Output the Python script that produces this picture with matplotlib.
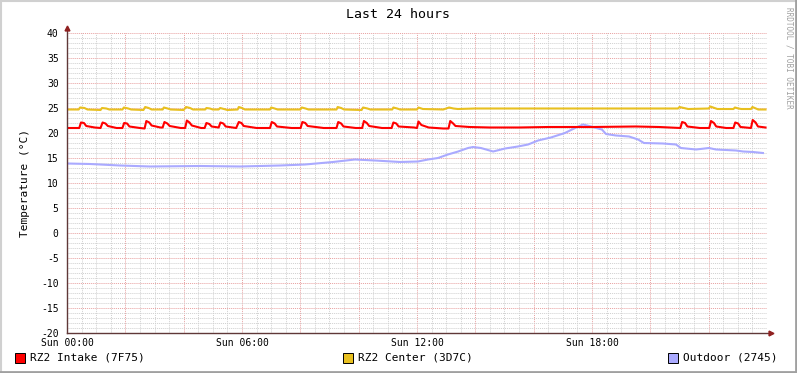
import numpy as np
import matplotlib
matplotlib.use("Agg")
import matplotlib.pyplot as plt
from matplotlib.ticker import MultipleLocator, FuncFormatter
from matplotlib.patches import Rectangle
from matplotlib.lines import Line2D

# hours since Sun 00:00, temperatures in degC
intake_h = [0.00, 0.42, 0.48, 0.58, 0.66, 0.95, 1.15, 1.22, 1.32, 1.40, 1.70, 1.90, 1.96, 2.06, 2.14,
            2.50, 2.66, 2.72, 2.82, 2.90, 3.20, 3.28, 3.34, 3.44, 3.52, 3.90, 4.05, 4.11, 4.20, 4.28,
            4.60, 4.72, 4.78, 4.88, 4.96, 5.20, 5.26, 5.36, 5.44, 5.80, 5.89, 5.98, 6.06, 6.50, 6.96,
            7.02, 7.12, 7.20, 7.70, 8.01, 8.07, 8.17, 8.25, 8.80, 9.24, 9.30, 9.40, 9.48, 9.90, 10.12,
            10.18, 10.28, 10.36, 10.80, 11.13, 11.19, 11.29, 11.37, 11.90, 12.00, 12.05, 12.15, 12.40,
            12.90, 13.08, 13.14, 13.24, 13.32, 13.80, 14.50, 15.50, 16.50, 18.00, 19.50, 20.30, 21.03,
            21.09, 21.19, 21.27, 21.70, 22.02, 22.08, 22.18, 22.26, 22.60, 22.85, 22.91, 23.01, 23.09,
            23.45, 23.51, 23.61, 23.69, 23.95]
intake_v = [21.0, 21.0, 22.1, 22.0, 21.4, 21.1, 21.0, 22.1, 21.9, 21.4, 21.0, 21.0, 22.0, 21.9, 21.3,
            21.0, 20.9, 22.4, 22.1, 21.5, 21.1, 21.1, 22.2, 21.9, 21.4, 21.0, 21.0, 22.5, 22.1, 21.5,
            21.0, 21.0, 22.0, 21.8, 21.3, 21.1, 22.1, 21.9, 21.3, 21.0, 22.2, 22.0, 21.4, 21.0, 21.0,
            22.2, 21.9, 21.3, 21.0, 21.0, 22.2, 22.0, 21.4, 21.0, 21.0, 22.2, 21.9, 21.3, 21.0, 21.0,
            22.4, 22.0, 21.4, 21.0, 21.0, 22.1, 21.9, 21.3, 21.1, 21.0, 22.3, 21.6, 21.1,
            20.9, 20.9, 22.4, 21.9, 21.4, 21.2, 21.1, 21.1, 21.2, 21.2, 21.3, 21.2, 21.0,
            22.2, 22.0, 21.3, 21.0, 21.0, 22.4, 22.0, 21.3, 21.0, 21.0, 22.1, 21.9, 21.2,
            21.0, 22.6, 22.1, 21.3, 21.1]

center_h = [0.00, 0.40, 0.45, 0.60, 0.70, 1.15, 1.20, 1.35, 1.45, 1.90, 1.95, 2.10, 2.20, 2.62, 2.68,
            2.80, 2.90, 3.28, 3.32, 3.45, 3.55, 4.00, 4.08, 4.22, 4.32, 4.74, 4.78, 4.90, 5.00, 5.20,
            5.25, 5.38, 5.50, 5.85, 5.89, 6.00, 6.10, 6.96, 7.00, 7.12, 7.22, 8.00, 8.05, 8.18, 8.28,
            9.24, 9.28, 9.40, 9.50, 10.10, 10.15, 10.30, 10.40, 11.15, 11.19, 11.32, 11.42, 12.00,
            12.05, 12.20, 12.90, 13.10, 13.25, 13.40, 14.00, 20.90, 20.95, 21.00, 21.15, 21.30, 22.00,
            22.06, 22.20, 22.30, 22.85, 22.90, 23.02, 23.12, 23.45, 23.50, 23.62, 23.70, 23.95]
center_v = [24.7, 24.7, 25.1, 25.0, 24.7, 24.6, 25.0, 24.9, 24.7, 24.7, 25.1, 24.9, 24.7, 24.6, 25.2,
            25.0, 24.7, 24.7, 25.1, 24.9, 24.7, 24.6, 25.2, 25.0, 24.7, 24.7, 25.0, 24.9, 24.7, 24.7,
            25.0, 24.8, 24.6, 24.7, 25.2, 25.0, 24.7, 24.7, 25.1, 24.9, 24.7, 24.7, 25.1, 24.9, 24.7,
            24.7, 25.2, 25.0, 24.7, 24.6, 25.1, 24.9, 24.7, 24.7, 25.1, 24.9, 24.7, 24.7,
            25.1, 24.8, 24.7, 25.1, 24.9, 24.8, 24.9, 24.9, 24.9, 25.2, 25.0, 24.8, 24.9,
            25.3, 25.0, 24.8, 24.8, 25.1, 24.9, 24.8, 24.8, 25.2, 24.9, 24.7, 24.7]

outdoor_h = [0.00, 0.79, 1.82, 2.85, 4.56, 5.93, 7.30, 8.16, 9.12, 9.87, 10.56, 11.42, 12.03, 12.38,
             12.72, 13.06, 13.41, 13.75, 13.92, 14.19, 14.61, 15.02, 15.46, 15.81, 16.15, 16.59, 17.07,
             17.42, 17.69, 17.97, 18.21, 18.34, 18.48, 18.82, 19.27, 19.58, 19.78, 20.43, 20.88, 21.05,
             21.57, 22.01, 22.25, 22.94, 23.18, 23.52, 23.86]
outdoor_v = [13.9, 13.8, 13.5, 13.3, 13.4, 13.3, 13.5, 13.7, 14.2, 14.7, 14.5, 14.2, 14.3, 14.7,
             15.0, 15.7, 16.3, 17.0, 17.2, 17.0, 16.3, 16.9, 17.3, 17.7, 18.5, 19.1, 20.0,
             21.0, 21.7, 21.3, 20.9, 20.7, 19.8, 19.5, 19.3, 18.7, 18.0, 17.9, 17.7, 17.0,
             16.7, 17.0, 16.7, 16.5, 16.3, 16.2, 16.0]

labels = ["RZ2 Intake (7F75)", "RZ2 Center (3D7C)", "Outdoor (2745)"]
colors = ["#ff0000", "#e8c020", "#aaaaff"]

mono = "DejaVu Sans Mono"
plt.rcParams["font.family"] = mono
plt.rcParams["axes.unicode_minus"] = False

W, H = 797, 373
fig = plt.figure(figsize=(W / 100, H / 100), dpi=100)
fig.patch.set_facecolor("white")
ax = fig.add_axes([67 / W, 1 - 333 / H, 700 / W, 300 / H])
ax.set_facecolor("white")

ax.set_xlim(0, 24)
ax.set_ylim(-20, 40)

# grid like rrdtool: gray every 30 min / 1 deg, red every 2 h / 5 deg
ax.xaxis.set_major_locator(MultipleLocator(2))
ax.xaxis.set_minor_locator(MultipleLocator(0.5))
ax.yaxis.set_major_locator(MultipleLocator(5))
ax.yaxis.set_minor_locator(MultipleLocator(1))
ax.xaxis.set_major_formatter(FuncFormatter(
    lambda v, p: "Sun %02d:00" % v if abs(v % 6) < 1e-6 and v < 23.9 else ""))
ax.grid(which="minor", color="#d0d0d0", linestyle=(0, (1, 1)), linewidth=0.7)
ax.grid(which="major", color="#e8a0a0", linestyle=(0, (1, 1)), linewidth=0.7)
ax.set_axisbelow(True)

for s in ax.spines.values():
    s.set_visible(False)
ax.tick_params(which="both", length=0, labelsize=7)
ax.tick_params(axis="y", pad=6)
ax.tick_params(axis="x", pad=3.5)

ax.plot(outdoor_h, outdoor_v, color=colors[2], lw=1.5)
ax.plot(center_h, center_v, color=colors[1], lw=1.5)
ax.plot(intake_h, intake_v, color=colors[0], lw=1.5)

# axes with arrows
axcol = "#603838"
ax.plot([0, 24.1], [-20, -20], color=axcol, lw=1, clip_on=False)
ax.plot([0, 0], [-20, 40.8], color=axcol, lw=1, clip_on=False)
ax.plot([24.15], [-20], marker=">", color="#902020", ms=3.5, clip_on=False)
ax.plot([0], [41.0], marker="^", color="#902020", ms=3.5, clip_on=False)

ax.set_ylabel("Temperature (°C)", fontsize=8, labelpad=8)
fig.text(398 / W, 1 - 14 / H, "Last 24 hours", ha="center", va="center", fontsize=9.5)
fig.text(789 / W, 1 - 58 / H, "RRDTOOL / TOBI OETIKER", rotation=270, ha="center",
         va="center", fontsize=5.5, color="#a0a0a0")

# legend
for lx, lab, col in zip([15, 343, 668], labels, colors):
    fig.patches.append(Rectangle((lx / W, 1 - 363 / H), 10 / W, 10 / H, transform=fig.transFigure,
                                 facecolor=col, edgecolor="black", lw=0.7))
    fig.text((lx + 15) / W, 1 - 358 / H, lab, ha="left", va="center", fontsize=8)

# frame around the image
fig.lines.append(Line2D([0, 1], [1 - 1 / H, 1 - 1 / H], transform=fig.transFigure, color="#d0d0d0", lw=1.5))
fig.lines.append(Line2D([1 / W, 1 / W], [0, 1], transform=fig.transFigure, color="#d0d0d0", lw=1.5))
fig.lines.append(Line2D([0, 1], [1.5 / H, 1.5 / H], transform=fig.transFigure, color="#a0a0a0", lw=2))
fig.lines.append(Line2D([1 - 1.5 / W, 1 - 1.5 / W], [0, 1], transform=fig.transFigure, color="#a0a0a0", lw=2))

fig.savefig("out.png", dpi=100)
